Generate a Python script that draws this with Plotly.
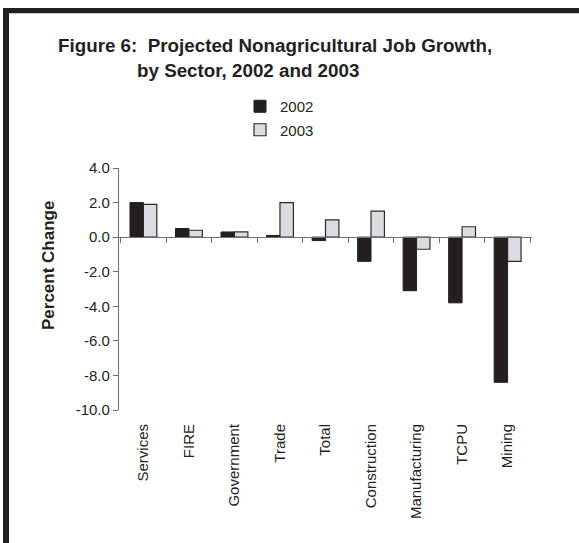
import plotly.graph_objects as go

categories = ["Services", "FIRE", "Government", "Trade", "Total",
              "Construction", "Manufacturing", "TCPU", "Mining"]
values_2002 = [2.0, 0.5, 0.3, 0.1, -0.2, -1.4, -3.1, -3.8, -8.4]
values_2003 = [1.9, 0.4, 0.3, 2.0, 1.0, 1.5, -0.7, 0.6, -1.4]
series_names = ["2002", "2003"]
y_tick_vals = [4, 2, 0, -2, -4, -6, -8, -10]
y_tick_text = ["4.0", "2.0", "0.0", "-2.0", "-4.0", "-6.0", "-8.0", "-10.0"]
title_line1 = "Figure 6:  Projected Nonagricultural Job Growth,"
title_line2 = "by Sector, 2002 and 2003"
y_title = "Percent Change"

W, H = 579, 543
ML, MR, MT, MB = 119, 47, 168, 133
PW, PH = W - ML - MR, H - MT - MB
Y_MIN, Y_MAX = -10, 4

def px_x(p):
    return (p - ML) / PW

def px_y(p):
    return (H - MB - p) / PH

FONT = "Liberation Sans, Arial, sans-serif"
DARK = "#231f20"
AX = "#6e6e6e"

fig = go.Figure()
fig.add_trace(go.Bar(
    x=categories, y=values_2002, name=series_names[0], legendgroup="a",
    marker=dict(color=DARK, line=dict(color=DARK, width=1)),
))
fig.add_trace(go.Bar(
    x=categories, y=values_2003, name=series_names[1], legendgroup="b",
    marker=dict(color="#dadce2", line=dict(color="#2a2a2a", width=1.2)),
))
# invisible helper so the zero-line axis (x2) is drawn
fig.add_trace(go.Scatter(
    x=categories, y=values_2002, xaxis="x2", mode="markers",
    marker=dict(opacity=0), showlegend=False, hoverinfo="skip",
))

fig.update_layout(
    width=W, height=H,
    margin=dict(l=ML, r=MR, t=MT, b=MB, autoexpand=False),
    paper_bgcolor="white", plot_bgcolor="white",
    font=dict(family=FONT, size=15, color=DARK),
    barmode="group", bargap=0.41, bargroupgap=0,
    showlegend=True,
    legend=dict(
        x=px_x(240), y=px_y(90), xanchor="left", yanchor="top",
        orientation="v", traceorder="grouped", tracegroupgap=1,
        font=dict(family=FONT, size=15, color=DARK),
        bgcolor="rgba(0,0,0,0)", borderwidth=0,
    ),
    xaxis=dict(
        type="category", showline=False, showgrid=False, zeroline=False,
        ticks="", tickangle=-90, ticklabelstandoff=10,
        tickfont=dict(family=FONT, size=15, color=DARK),
    ),
    xaxis2=dict(
        overlaying="x", matches="x", anchor="free",
        position=(0 - Y_MIN) / (Y_MAX - Y_MIN),
        showline=True, linecolor=AX, linewidth=1.3,
        ticks="outside", tickson="boundaries", ticklen=5,
        tickcolor=AX, tickwidth=1.3,
        showticklabels=False, showgrid=False, zeroline=False,
    ),
    yaxis=dict(
        range=[Y_MIN, Y_MAX], tickvals=y_tick_vals, ticktext=y_tick_text,
        showline=True, linecolor=AX, linewidth=1.3,
        ticks="outside", ticklen=5, tickcolor=AX, tickwidth=1.3,
        showgrid=False, zeroline=False,
        tickfont=dict(family=FONT, size=15, color=DARK),
    ),
    annotations=[
        dict(text="<b>" + title_line1 + "</b>", xref="paper", yref="paper",
             x=px_x(56), y=px_y(58), xanchor="left", yanchor="bottom",
             showarrow=False, font=dict(family=FONT, size=18.8, color=DARK)),
        dict(text="<b>" + title_line2 + "</b>", xref="paper", yref="paper",
             x=px_x(135), y=px_y(83), xanchor="left", yanchor="bottom",
             showarrow=False, font=dict(family=FONT, size=18.8, color=DARK)),
        dict(text="<b>" + y_title + "</b>", xref="paper", yref="paper",
             x=px_x(48), y=px_y(266), xanchor="center", yanchor="middle",
             textangle=-90, showarrow=False,
             font=dict(family=FONT, size=17, color=DARK)),
    ],
    shapes=[
        dict(type="rect", xref="paper", yref="paper",
             x0=px_x(3), x1=px_x(585), y0=px_y(13.3), y1=px_y(8),
             fillcolor=DARK, line=dict(width=0)),
        dict(type="rect", xref="paper", yref="paper",
             x0=px_x(3), x1=px_x(9), y0=px_y(560), y1=px_y(8),
             fillcolor=DARK, line=dict(width=0)),
    ],
)

fig.write_html(
    "out.html",
    config={"displayModeBar": False},
    post_script="document.body.style.margin='0';document.body.style.padding='0';",
)
